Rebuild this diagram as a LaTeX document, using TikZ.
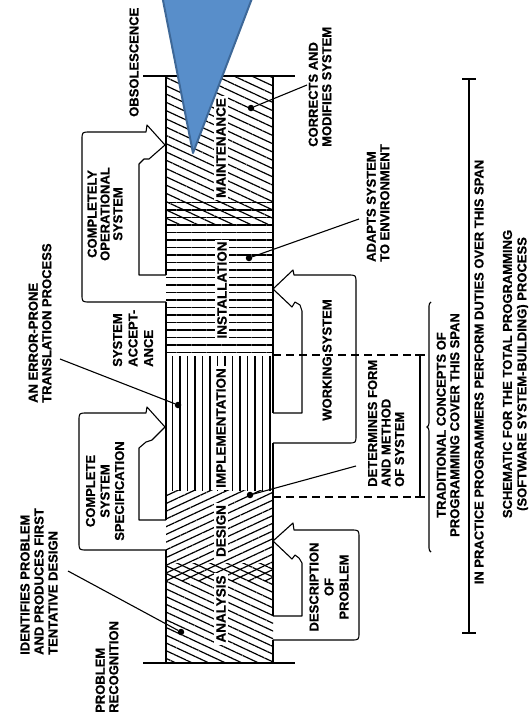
\documentclass[tikz,border=0pt]{standalone}
\usepackage{fontspec}
\setmainfont{Liberation Sans}[BoldFeatures={FakeBold=0.6}]
\usetikzlibrary{patterns.meta,decorations.pathreplacing}
\definecolor{tribl}{RGB}{88,142,202}
\definecolor{tribd}{RGB}{62,104,152}
\begin{document}
\begin{tikzpicture}[x=1pt,y=-1pt,
  txt/.style={rotate=90, font=\fontsize{13}{13.5}\selectfont\bfseries, inner sep=0pt, align=left},
  ctxt/.style={txt, align=center},
  stage/.style={rotate=90, font=\fontsize{13.5}{14}\selectfont\bfseries, inner sep=2pt, fill=white},
  dot/.style={circle, fill=black, inner sep=0pt, minimum size=6.5pt},
  edge/.style={line width=1.5pt},
  lw1/.style={line width=1.1pt},
  hatchNW/.style={pattern={Lines[angle=-25,distance=#1,line width=1.2pt]}},
  hatchNE/.style={pattern={Lines[angle=25,distance=#1,line width=1.2pt]}},
  hatchH/.style={pattern={Lines[angle=0,distance=7.5pt,line width=1.2pt]}},
  hatchV/.style={pattern={Lines[angle=90,distance=7.5pt,line width=1.2pt]}},
  dashline/.style={line width=1.1pt, dash pattern=on 8pt off 5pt}
]
\useasboundingbox (0,0) rectangle (528,720);
\clip (0,0) rectangle (528,720);
\fill[white] (0,0) rectangle (528,720);

% ---------- hatching of the bar ----------
\fill[hatchNW=7.5pt] (166,76) rectangle (273,225);
\fill[hatchH] (166,200) rectangle (273,353);
\fill[hatchV] (166,356) rectangle (273,490);
\fill[hatchNE=7pt] (166,490) rectangle (273,580);
\fill[hatchNW=7pt] (166,563) rectangle (273,663);

% ---------- stage labels ----------
\node[stage] (maint) at (221,148) {MAINTENANCE};
\node[stage] (inst) at (222,290) {INSTALLATION};
\node[stage] (impl) at (221,428) {IMPLEMENTATION};
\node[stage] (desg) at (221,531) {DESIGN};
\node[stage] (anal) at (221,609) {ANALYSIS};

% ---------- bar outline ----------
\draw[edge] (143,76) -- (295,76);
\draw[edge] (143,663) -- (295,663);
\draw[edge] (166,76) -- (166,275) (166,302) -- (166,520) (166,550) -- (166,663);
\draw[edge] (273,76) -- (273,413) (273,443) -- (273,616) (273,640) -- (273,663);

% ---------- bent arrows ----------
\draw[lw1, line join=round] (166,302) -- (90,302) .. controls (82,302) .. (82,294) -- (82,140)
  .. controls (82,132) .. (90,132) -- (146,132) -- (147,125) -- (165,145) -- (149,159)
  -- (144,159) -- (139,164) -- (139,275) -- (166,275);
\draw[lw1, line join=round] (166,550) -- (87,550) .. controls (79,550) .. (79,542) -- (79,421)
  .. controls (79,413) .. (87,413) -- (146,413) -- (147,407) -- (165,427) -- (152,440)
  -- (146,442) -- (139,448) -- (139,520) -- (166,520);
\draw[lw1, line join=round] (273,443) -- (348,443) .. controls (356,443) .. (356,435) -- (356,283)
  .. controls (356,275) .. (348,275) -- (294,275) -- (293,270) -- (273,289) -- (292,307)
  -- (295,302) -- (300,305) -- (302,311) -- (302,413) -- (273,413);
\draw[lw1, line join=round] (273,640) -- (351,640) .. controls (359,640) .. (359,632) -- (359,538)
  .. controls (359,530) .. (351,530) -- (294,530) -- (293,523) -- (273,541) -- (292,559)
  -- (295,555) -- (299,558) -- (302,563) -- (302,616) -- (273,616);

% ---------- texts ----------
\node[txt, anchor=west] (obs) at (134,117) {OBSOLESCENCE};
\node[txt, anchor=west] (corr) at (320,147) {CORRECTS AND\\MODIFIES SYSTEM};
\node[ctxt, font=\fontsize{13}{12.8}\selectfont\bfseries] (compop) at (105,214) {COMPLETELY\\OPERATIONAL\\SYSTEM};
\node[txt, anchor=west] (err) at (40,403) {AN ERROR-PRONE\\TRANSLATION PROCESS};
\node[txt, anchor=west, font=\fontsize{13}{15.5}\selectfont\bfseries] (accept) at (133,367) {SYSTEM\\ACCEPT-\\ANCE};
\node[ctxt, font=\fontsize{13}{14.5}\selectfont\bfseries] (spec) at (105,491) {COMPLETE\\SYSTEM\\SPECIFICATION};
\node[txt] (work) at (327,360) {WORKING SYSTEM};
\node[ctxt, font=\fontsize{13}{15}\selectfont\bfseries] (desc) at (329,587) {DESCRIPTION\\OF\\PROBLEM};
\node[txt, anchor=west] (det) at (386,487) {DETERMINES FORM\\AND METHOD\\OF SYSTEM};
\node[txt, anchor=west] (adapt) at (378,262) {ADAPTS SYSTEM\\TO ENVIRONMENT};
\node[txt, anchor=west, font=\fontsize{13}{14}\selectfont\bfseries] (ident) at (39,655) {IDENTIFIES PROBLEM\\AND PRODUCES FIRST\\TENTATIVE DESIGN};
\node[txt, anchor=west] (prob) at (107,713) {PROBLEM\\RECOGNITION};
\node[ctxt] (trad) at (448,425) {TRADITIONAL CONCEPTS OF\\PROGRAMMING COVER THIS SPAN};
\node[txt] (prac) at (479,372) {IN PRACTICE PROGRAMMERS PERFORM DUTIES OVER THIS SPAN};
\node[ctxt, font=\fontsize{13}{14.5}\selectfont\bfseries] (capt) at (516,374) {SCHEMATIC FOR THE TOTAL PROGRAMMING\\(SOFTWARE SYSTEM-BUILDING) PROCESS};

% ---------- leaders with dots ----------
\node[dot] (dErr) at (178,405) {};
\node[dot] (dIdent) at (181,632) {};
\node[dot] (dDet) at (250,495) {};
\node[dot] (dAdapt) at (249,258) {};
\node[dot] (dCorr) at (251,108) {};
\coordinate (eErr) at (60,359);
\coordinate (eIdent) at (68,571);
\coordinate (eDet) at (356,466);
\coordinate (eAdapt) at (359,219);
\coordinate (eCorr) at (307,85);
\draw[lw1] (eErr) -- (dErr);
\draw[lw1] (eIdent) -- (dIdent);
\draw[lw1] (dDet) -- (eDet);
\draw[lw1] (dAdapt) -- (eAdapt);
\draw[lw1] (dCorr) -- (eCorr);

% ---------- spans ----------
\coordinate (dA) at (273,355);
\coordinate (dB) at (273,497);
\coordinate (dAe) at (420,355);
\coordinate (dBe) at (420,497);
\draw[dashline] (dA) -- (dAe);
\draw[dashline] (dB) -- (dBe);
\draw[lw1] (dAe) -- (dBe);
\draw[lw1] ([xshift=-5pt]dAe) -- ([xshift=5pt]dAe);
\draw[lw1] ([xshift=-5pt]dBe) -- ([xshift=5pt]dBe);

\coordinate (brB) at (431,552);
\coordinate (brT) at (431,302);
\draw[lw1, decorate, decoration={brace, amplitude=4pt}] (brB) -- (brT);

\coordinate (spT) at (469,79);
\coordinate (spB) at (469,633);
\draw[lw1] (spT) -- (spB);
\draw[lw1] ([xshift=-7pt]spT) -- ([xshift=7pt]spT);
\draw[lw1] ([xshift=-7pt]spB) -- ([xshift=7pt]spB);

% ---------- blue callout triangle ----------
\filldraw[fill=tribl, draw=tribd, line width=2pt, line join=round] (159,-20) -- (259,-20) -- (193,153) -- cycle;
\end{tikzpicture}
\end{document}
